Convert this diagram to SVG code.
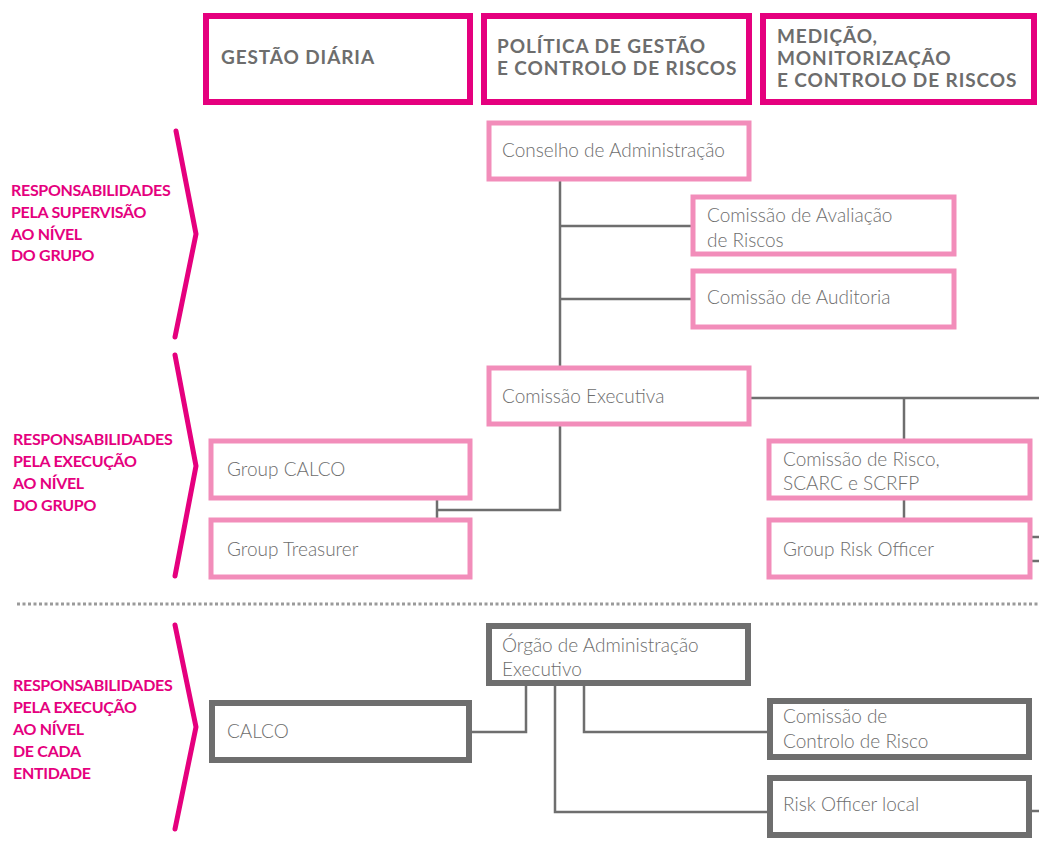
<svg xmlns="http://www.w3.org/2000/svg" width="1039" height="852" viewBox="0 0 1039 852">
<style>
.hdr{fill:#fff;stroke:#E5007E;stroke-width:6}
.hdrt{font-family:Lato,"Open Sans",sans-serif;font-weight:700;font-size:19px;fill:#6d6d6d;letter-spacing:0.9px}
.pk{fill:#fff;stroke:#F28DBA;stroke-width:5}
.gy{fill:#fff;stroke:#6e6e6e;stroke-width:6}
.nt{font-family:Lato,"Open Sans",sans-serif;font-weight:300;font-size:19px;fill:#6d6d6d}
.lbl{font-family:Lato,"Open Sans",sans-serif;font-weight:700;font-size:16px;fill:#E5007E;letter-spacing:-0.3px}
.br{fill:none;stroke:#E5007E;stroke-width:5;stroke-linecap:round;stroke-linejoin:round}
.cn{fill:none;stroke:#6e6e6e;stroke-width:2.5}
</style>
<rect width="1039" height="852" fill="#fff"/>
<g id="headers">
<g id="h-gestao"><rect class="hdr" x="206" y="16" width="264" height="86"/><text class="hdrt" x="221" y="64">GESTÃO DIÁRIA</text></g>
<g id="h-politica"><rect class="hdr" x="484" y="16" width="265" height="86"/><text class="hdrt" x="497" y="53">POLÍTICA DE GESTÃO</text><text class="hdrt" x="497" y="75">E CONTROLO DE RISCOS</text></g>
<g id="h-medicao"><rect class="hdr" x="763" y="16" width="271" height="86"/><text class="hdrt" x="777" y="43">MEDIÇÃO,</text><text class="hdrt" x="777" y="65">MONITORIZAÇÃO</text><text class="hdrt" x="777" y="87">E CONTROLO DE RISCOS</text></g>
</g>
<g id="labels">
<path class="br" d="M176,131 L196,234 L175,337"/>
<path class="br" d="M175,355 L196,466 L175,576"/>
<path class="br" d="M175,625 L196,727 L175,829"/>
<text class="lbl"><tspan x="11" y="196">RESPONSABILIDADES</tspan><tspan x="11" y="218">PELA SUPERVISÃO</tspan><tspan x="11" y="240">AO NÍVEL</tspan><tspan x="11" y="261">DO GRUPO</tspan></text>
<text class="lbl"><tspan x="13" y="445">RESPONSABILIDADES</tspan><tspan x="13" y="467">PELA EXECUÇÃO</tspan><tspan x="13" y="489">AO NÍVEL</tspan><tspan x="13" y="511">DO GRUPO</tspan></text>
<text class="lbl"><tspan x="13" y="691">RESPONSABILIDADES</tspan><tspan x="13" y="713">PELA EXECUÇÃO</tspan><tspan x="13" y="735">AO NÍVEL</tspan><tspan x="13" y="757">DE CADA</tspan><tspan x="13" y="779">ENTIDADE</tspan></text>
</g>
<line x1="17" y1="604" x2="1039" y2="604" stroke="#9a9a9a" stroke-width="3" stroke-dasharray="3 2.5"/>
<g id="connectors">
<path class="cn" d="M560,181 V366"/>
<path class="cn" d="M560,226 H691"/>
<path class="cn" d="M560,299 H691"/>
<path class="cn" d="M751,398 H1039"/>
<path class="cn" d="M904,398 V439"/>
<path class="cn" d="M904,500 V518"/>
<path class="cn" d="M1032,537 H1039 M1032,561 H1039"/>
<path class="cn" d="M560,426 V510 H437"/>
<path class="cn" d="M437,500 V518"/>
<path class="cn" d="M526,686 V732 H472"/>
<path class="cn" d="M584,686 V732 H767"/>
<path class="cn" d="M555,686 V812 H767"/>
<path class="cn" d="M1032,811 H1039"/>
</g>
<g id="n-conselho"><rect class="pk" x="489" y="123" width="260" height="56"/><text class="nt" x="502" y="157">Conselho de Administração</text></g>
<g id="n-avaliacao"><rect class="pk" x="693" y="197" width="261" height="57"/><text class="nt"><tspan x="707" y="222">Comissão de Avaliação</tspan><tspan x="707" y="247">de Riscos</tspan></text></g>
<g id="n-auditoria"><rect class="pk" x="693" y="271" width="261" height="56"/><text class="nt" x="707" y="304">Comissão de Auditoria</text></g>
<g id="n-executiva"><rect class="pk" x="489" y="368" width="260" height="56"/><text class="nt" x="502" y="403">Comissão Executiva</text></g>
<g id="n-groupcalco"><rect class="pk" x="211" y="441" width="259" height="57"/><text class="nt" x="227" y="476">Group CALCO</text></g>
<g id="n-treasurer"><rect class="pk" x="211" y="520" width="259" height="57"/><text class="nt" x="227" y="556">Group Treasurer</text></g>
<g id="n-risco"><rect class="pk" x="769" y="441" width="261" height="57"/><text class="nt"><tspan x="783" y="466">Comissão de Risco,</tspan><tspan x="783" y="490">SCARC e SCRFP</tspan></text></g>
<g id="n-gro"><rect class="pk" x="769" y="520" width="261" height="57"/><text class="nt" x="783" y="556">Group Risk Officer</text></g>
<g id="n-orgao"><rect class="gy" x="489" y="626" width="259" height="57"/><text class="nt"><tspan x="502" y="652">Órgão de Administração</tspan><tspan x="502" y="676">Executivo</tspan></text></g>
<g id="n-calco"><rect class="gy" x="212" y="703" width="257" height="57"/><text class="nt" x="227" y="738">CALCO</text></g>
<g id="n-ccr"><rect class="gy" x="770" y="701" width="259" height="56"/><text class="nt"><tspan x="783" y="723">Comissão de</tspan><tspan x="783" y="748">Controlo de Risco</tspan></text></g>
<g id="n-rol"><rect class="gy" x="770" y="778" width="259" height="57"/><text class="nt" x="783" y="811">Risk Officer local</text></g>
</svg>
